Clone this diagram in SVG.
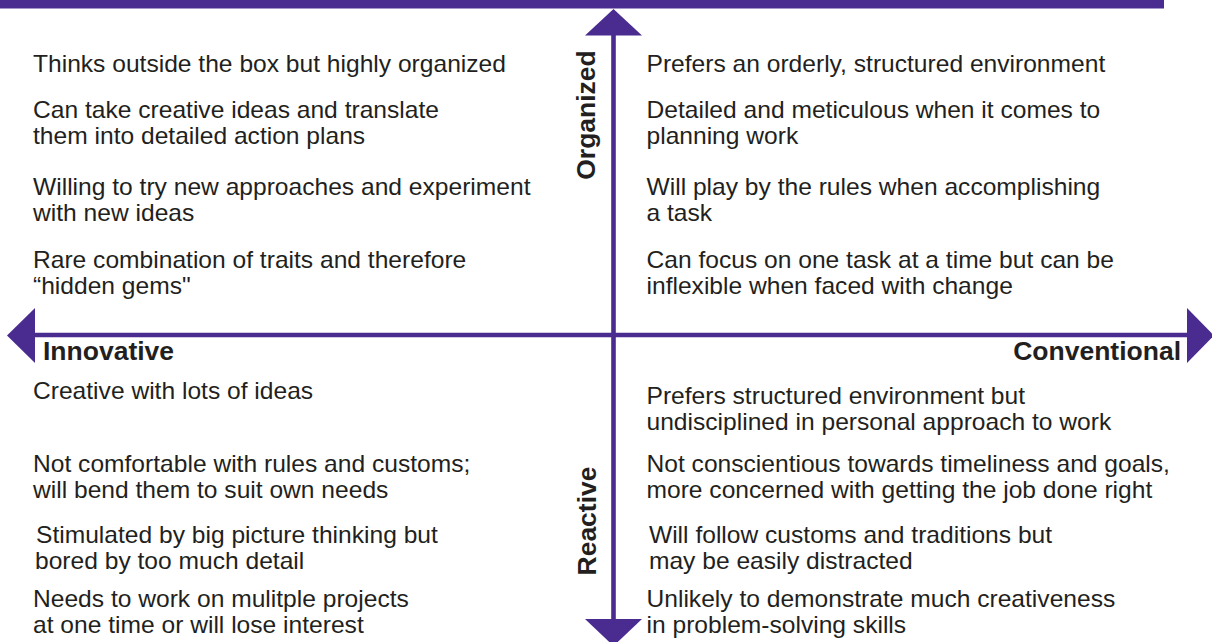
<svg xmlns="http://www.w3.org/2000/svg" width="1212" height="642" viewBox="0 0 1212 642">
<style>
.t{font-family:"Liberation Sans",Arial,Helvetica,sans-serif;font-size:23px;fill:#231f20}
.b{font-family:"Liberation Sans",Arial,Helvetica,sans-serif;font-size:26.5px;font-weight:bold;fill:#231f20}
.ax{stroke:#4a2b8f;stroke-width:4.6;fill:none}
.ah{fill:#4a2b8f}
</style>
<rect x="0" y="0" width="1164" height="8.5" fill="#4a2b8f"/>
<g id="connectors">
<line class="ax" x1="613.5" y1="30" x2="613.5" y2="622"/>
<line class="ax" x1="30" y1="335" x2="1192" y2="335"/>
<polygon class="ah" points="613.5,9 585,35.5 642,35.5"/>
<polygon class="ah" points="585,619 642,619 613.5,646"/>
<polygon class="ah" points="7,335.5 35,308 35,363"/>
<polygon class="ah" points="1187,308 1187,363 1214,335.5"/>
</g>
<g id="axis-labels">
<text id="organized" class="b" text-anchor="middle" transform="translate(595,115) rotate(-90)">Organized</text>
<text id="reactive" class="b" text-anchor="middle" transform="translate(596,521) rotate(-90)">Reactive</text>
<text id="innovative" class="b" x="43" y="360">Innovative</text>
<text id="conventional" class="b" x="1181" y="360" text-anchor="end">Conventional</text>
</g>
<g id="quadrant-top-left" transform="translate(33,0) scale(1.07,1)">
<text class="t" x="0" y="72.5">Thinks outside the box but highly organized</text>
<text class="t"><tspan x="0" y="118">Can take creative ideas and translate</tspan><tspan x="0" y="144">them into detailed action plans</tspan></text>
<text class="t"><tspan x="0" y="195">Willing to try new approaches and experiment</tspan><tspan x="0" y="221">with new ideas</tspan></text>
<text class="t"><tspan x="0" y="268">Rare combination of traits and therefore</tspan><tspan x="0" y="294">“hidden gems"</tspan></text>
</g>
<g id="quadrant-top-right" transform="translate(646.5,0) scale(1.07,1)">
<text class="t" x="0" y="72.5">Prefers an orderly, structured environment</text>
<text class="t"><tspan x="0" y="118">Detailed and meticulous when it comes to</tspan><tspan x="0" y="144">planning work</tspan></text>
<text class="t"><tspan x="0" y="195">Will play by the rules when accomplishing</tspan><tspan x="0" y="221">a task</tspan></text>
<text class="t"><tspan x="0" y="268">Can focus on one task at a time but can be</tspan><tspan x="0" y="294">inflexible when faced with change</tspan></text>
</g>
<g id="quadrant-bottom-left" transform="translate(33,0) scale(1.07,1)">
<text class="t" x="0" y="399">Creative with lots of ideas</text>
<text class="t"><tspan x="0" y="472">Not comfortable with rules and customs;</tspan><tspan x="0" y="498">will bend them to suit own needs</tspan></text>
<text class="t"><tspan x="2.8" y="543">Stimulated by big picture thinking but</tspan><tspan x="1.9" y="569">bored by too much detail</tspan></text>
<text class="t"><tspan x="0" y="607">Needs to work on mulitple projects</tspan><tspan x="0" y="633">at one time or will lose interest</tspan></text>
</g>
<g id="quadrant-bottom-right" transform="translate(646.5,0) scale(1.07,1)">
<text class="t"><tspan x="0" y="404">Prefers structured environment but</tspan><tspan x="0" y="430">undisciplined in personal approach to work</tspan></text>
<text class="t"><tspan x="0" y="472">Not conscientious towards timeliness and goals,</tspan><tspan x="0" y="498">more concerned with getting the job done right</tspan></text>
<text class="t"><tspan x="2.3" y="543">Will follow customs and traditions but</tspan><tspan x="2.3" y="569">may be easily distracted</tspan></text>
<text class="t"><tspan x="0" y="607">Unlikely to demonstrate much creativeness</tspan><tspan x="0" y="633">in problem-solving skills</tspan></text>
</g>
</svg>
